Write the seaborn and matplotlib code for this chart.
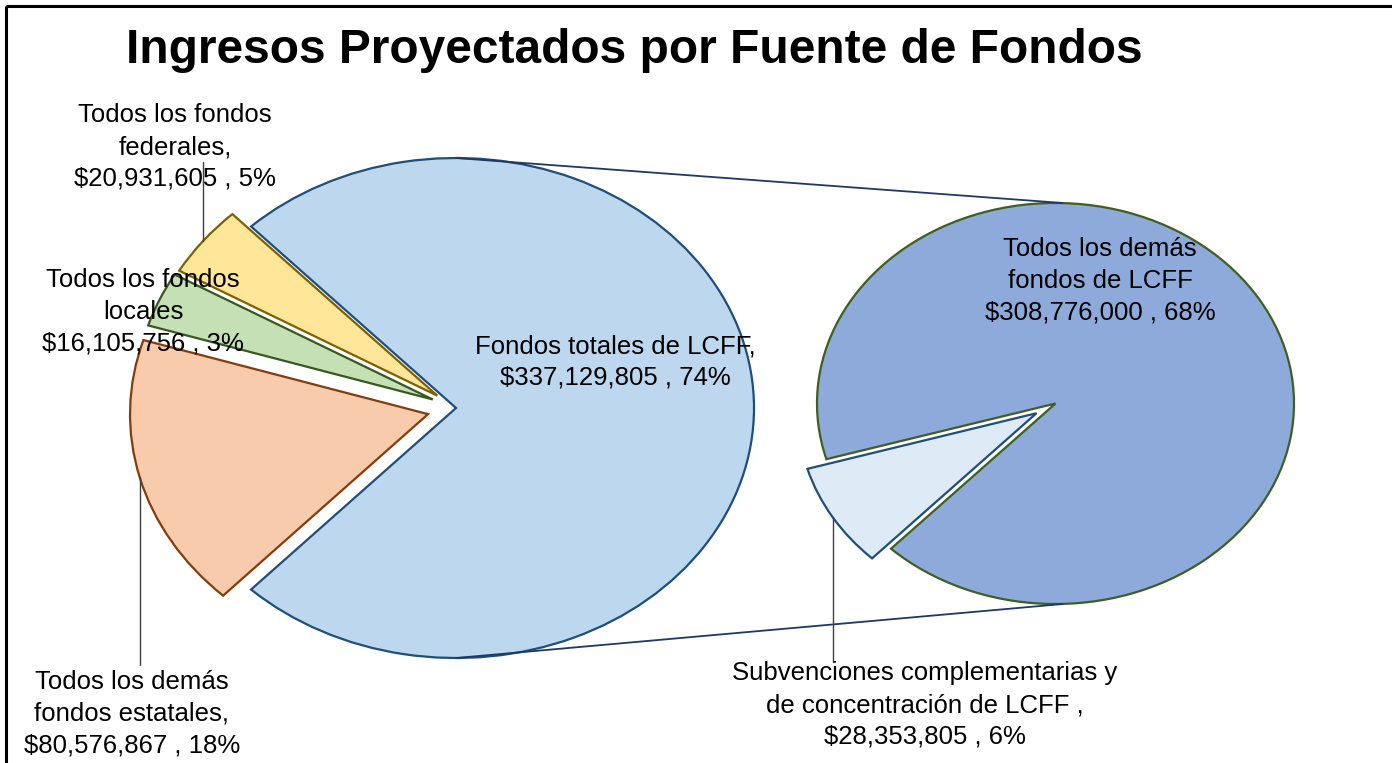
import matplotlib
matplotlib.use("Agg")
import matplotlib.pyplot as plt
import seaborn as sns
import numpy as np
from matplotlib.patches import Rectangle, ConnectionPatch
from matplotlib.lines import Line2D

# ---------------- data ----------------
main_names = ["Fondos totales de LCFF", "Todos los fondos federales",
              "Todos los fondos locales", "Todos los demás fondos estatales"]
main_values = [337129805, 20931605, 16105756, 80576867]
main_pcts = [74, 5, 3, 18]

sub_names = ["Todos los demás fondos de LCFF",
             "Subvenciones complementarias y de concentración de LCFF"]
sub_values = [308776000, 28353805]
sub_pcts = [68, 6]

title = "Ingresos Proyectados por Fuente de Fondos"

# ---------------- style ----------------
sns.set_theme(style="white")
plt.rcParams['font.family'] = ['Liberation Sans', 'DejaVu Sans']

main_fill = sns.color_palette(["#BDD7EE", "#FFE699", "#C5E0B4", "#F8CBAD"])
main_edge = ["#1F4E79", "#7F6000", "#385723", "#843C0C"]
sub_fill = sns.color_palette(["#8EAADB", "#DEEBF7"])
sub_edge = ["#3F5F22", "#1F4E79"]

W, H = 1392, 763
fig = plt.figure(figsize=(W / 100, H / 100), dpi=100)
fig.patch.set_facecolor("white")

def add_px_axes(cx, cy, rx, ry, lim):
    w = 2 * lim * rx
    h = 2 * lim * ry
    left = (cx - w / 2) / W
    bottom = (H - (cy + h / 2)) / H
    ax = fig.add_axes([left, bottom, w / W, h / H])
    return ax

def fix_axes(ax, lim):
    ax.set_xlim(-lim, lim)
    ax.set_ylim(-lim, lim)
    ax.set_aspect("auto")
    ax.axis("off")

# overlay in pixel coordinates (for text & frame)
ov = fig.add_axes([0, 0, 1, 1])
ov.set_xlim(0, W)
ov.set_ylim(H, 0)
ov.axis("off")
ov.set_zorder(5)
ov.patch.set_alpha(0)

# left (main) pie
L1 = 1.4
ax1 = add_px_axes(456, 408, 298, 250, L1)
frac_main = np.array(main_values) / np.sum(main_values)
start1 = -frac_main[0] * 360 / 2
explode1 = [0, 0.08, 0.085, 0.097]
w1, _ = ax1.pie(main_values, startangle=start1, counterclock=True,
                explode=explode1, colors=main_fill,
                wedgeprops=dict(linewidth=1.6), normalize=True)
for w, ec in zip(w1, main_edge):
    w.set_edgecolor(ec)
fix_axes(ax1, L1)

# right (sub) pie
L2 = 1.3
ax2 = add_px_axes(1055.5, 403.5, 238.5, 200.5, L2)
start2 = 226.4
explode2 = [0, 0.093]
w2, _ = ax2.pie(sub_values, startangle=start2, counterclock=True,
                explode=explode2, colors=sub_fill,
                wedgeprops=dict(linewidth=1.6), normalize=True)
for w, ec in zip(w2, sub_edge):
    w.set_edgecolor(ec)
fix_axes(ax2, L2)

# connector lines between pies
for yy in (1, -1):
    con = ConnectionPatch(xyA=(0.0, yy), coordsA=ax1.transData,
                          xyB=(0.03, yy), coordsB=ax2.transData,
                          color="#1F3864", lw=1.3)
    fig.add_artist(con)

def mid_point(ax, wedge):
    th = np.deg2rad((wedge.theta1 + wedge.theta2) / 2)
    cx, cy = wedge.center
    p = (cx + wedge.r * np.cos(th), cy + wedge.r * np.sin(th))
    return ov.transData.inverted().transform(ax.transData.transform(p))

def fmt(v):
    return f"${v:,}"

fs = 18.5
tkw = dict(ha="center", va="center", fontsize=fs, color="black",
           linespacing=1.42, zorder=6)

# labels
ov.text(175, 147, f"Todos los fondos\nfederales,\n{fmt(main_values[1])} , {main_pcts[1]}%", **tkw)
ov.text(143, 312, f"Todos los fondos\nlocales\n{fmt(main_values[2])} , {main_pcts[2]}%", **tkw)
ov.text(132, 714, f"Todos los demás\nfondos estatales,\n{fmt(main_values[3])} , {main_pcts[3]}%", **tkw)
ov.text(615, 362, f"Fondos totales de LCFF,\n{fmt(main_values[0])} , {main_pcts[0]}%", **tkw)
ov.text(1100, 281, f"Todos los demás\nfondos de LCFF\n{fmt(sub_values[0])} , {sub_pcts[0]}%", **tkw)
ov.text(925, 705, f"Subvenciones complementarias y\nde concentración de LCFF ,\n{fmt(sub_values[1])} , {sub_pcts[1]}%", **tkw)

# leader lines (from slice mid-arc point, vertical to label)
p = mid_point(ax1, w1[1])
ov.add_line(Line2D([p[0], p[0]], [p[1], 162], color="#404040", lw=1.0, zorder=4))
p = mid_point(ax1, w1[3])
ov.add_line(Line2D([p[0], p[0]], [p[1], 665], color="#404040", lw=1.0, zorder=4))
p = mid_point(ax2, w2[1])
ov.add_line(Line2D([p[0], p[0]], [p[1], 662], color="#404040", lw=1.0, zorder=4))

# title
ov.text(634, 63, title, ha="center", va="baseline", fontsize=34.5,
        fontweight="bold", color="black", zorder=6)

# outer frame
ov.add_patch(Rectangle((6, 6), W + 20, H + 20, fill=False, edgecolor="black",
                       lw=2.2, zorder=7))

fig.savefig("out.png", dpi=100, facecolor="white")
